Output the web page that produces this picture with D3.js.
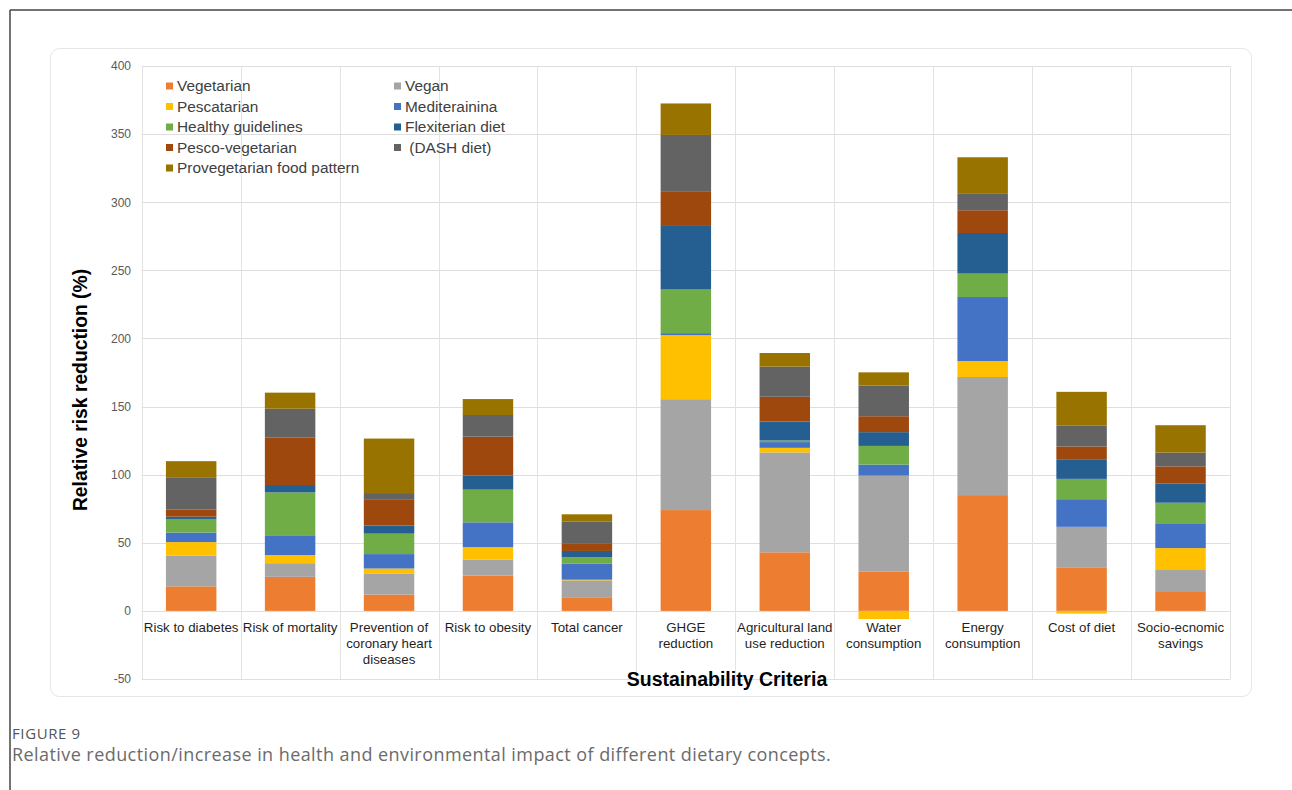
<!DOCTYPE html>
<html>
<head>
<meta charset="utf-8">
<script src="https://cdn.jsdelivr.net/npm/d3@7"></script>
<style>
  html, body { margin: 0; padding: 0; background: #fff; }
  svg { display: block; }
</style>
</head>
<body>
<svg id="chart" width="1292" height="790"></svg>
<script>
// ---------- DATA ----------
const categories = ["Risk to diabetes", "Risk of mortality", "Prevention of coronary heart diseases",
  "Risk to obesity", "Total cancer", "GHGE reduction", "Agricultural land use reduction",
  "Water consumption", "Energy consumption", "Cost of diet", "Socio-ecnomic savings"];
const categoryLabelLines = [
  ["Risk to diabetes"], ["Risk of mortality"], ["Prevention of", "coronary heart", "diseases"],
  ["Risk to obesity"], ["Total cancer"], ["GHGE", "reduction"], ["Agricultural land", "use reduction"],
  ["Water", "consumption"], ["Energy", "consumption"], ["Cost of diet"], ["Socio-ecnomic", "savings"]
];
const seriesNames = ["Vegetarian", "Vegan", "Pescatarian", "Mediterainina", "Healthy guidelines",
  "Flexiterian diet", "Pesco-vegetarian", " (DASH diet)", "Provegetarian food pattern"];
const vegetarian    = [18, 25, 12, 26, 10, 74, 43, 29, 85, 32, 14.5];
const vegan         = [22.5, 10, 15.5, 11.5, 12.4, 81.4, 73.3, 70.3, 86.7, 29.7, 15.5];
const pescatarian   = [10, 6, 3.6, 9.3, 0.5, 47, 3.4, -6, 11.7, -2, 16.1];
const mediterainina = [7, 14, 10.6, 18.2, 11.9, 1.5, 4.2, 8.1, 47, 20.3, 17.7];
const healthy       = [10, 32, 15, 24, 4.5, 32, 1.2, 13.7, 17.2, 14.9, 15.6];
const flexiterian   = [1.7, 5.4, 5.9, 10.4, 4.7, 47.3, 14, 10.1, 29.8, 14, 14];
const pescoVeg      = [5.1, 35, 18.9, 28.5, 5.7, 24.9, 18.1, 11.7, 16.7, 9.8, 12.7];
const dash          = [23.8, 21, 5, 15.9, 16, 41.3, 22.1, 22.6, 12.5, 15.2, 10.1];
const provegetarian = [11.8, 11.8, 40, 11.7, 5.2, 23.1, 10, 9.6, 26.4, 24.9, 20.1];
const yTicks = [-50, 0, 50, 100, 150, 200, 250, 300, 350, 400];
const colors = ["#ED7D31", "#A5A5A5", "#FFC000", "#4472C4", "#70AD47", "#255E91", "#9E480E", "#636363", "#997300"];

const seriesValues = [vegetarian, vegan, pescatarian, mediterainina, healthy, flexiterian, pescoVeg, dash, provegetarian];

// ---------- BUILD TABLE ----------
const table = categories.map((c, i) => {
  const row = { category: c };
  seriesNames.forEach((s, k) => row[s] = seriesValues[k][i]);
  return row;
});

const svg = d3.select("#chart");
const font = "'Liberation Sans', Arial, sans-serif";

// outer frame lines
svg.append("line").attr("x1", 10).attr("y1", 10).attr("x2", 1292).attr("y2", 10)
  .attr("stroke", "#444").attr("stroke-width", 1.5);
svg.append("line").attr("x1", 10).attr("y1", 10).attr("x2", 10).attr("y2", 790)
  .attr("stroke", "#444").attr("stroke-width", 1.5);

// chart container rounded rect
svg.append("rect").attr("x", 50.5).attr("y", 48.5).attr("width", 1201).attr("height", 648)
  .attr("rx", 9).attr("fill", "#fff").attr("stroke", "#e6e6e6").attr("stroke-width", 1);

const plot = { left: 141.7, right: 1230, top: 66, bottom: 679 };

const x = d3.scaleBand().domain(categories).range([plot.left, plot.right])
  .paddingInner(0.49).paddingOuter(0.245);
const y = d3.scaleLinear().domain([-50, 400]).range([plot.bottom, plot.top]);

// horizontal gridlines
svg.append("g").selectAll("line").data(yTicks).join("line")
  .attr("x1", plot.left).attr("x2", plot.right)
  .attr("y1", d => Math.round(y(d)) + 0.5).attr("y2", d => Math.round(y(d)) + 0.5)
  .attr("stroke", "#dedede").attr("stroke-width", 1);

// vertical gridlines at category boundaries
const step = x.step();
const vIdx = d3.range(categories.length + 1);
svg.append("g").selectAll("line").data(vIdx).join("line")
  .attr("x1", i => Math.round(plot.left + i * step) + 0.5)
  .attr("x2", i => Math.round(plot.left + i * step) + 0.5)
  .attr("y1", plot.top).attr("y2", plot.bottom)
  .attr("stroke", "#e3e3e3").attr("stroke-width", 1);

// y axis labels
const yAxis = d3.axisLeft(y).tickValues(yTicks).tickSize(0).tickPadding(0).tickFormat(d => String(d));
const yg = svg.append("g").attr("transform", `translate(131,0)`).call(yAxis);
yg.select(".domain").remove();
yg.selectAll("text").attr("font-family", font).attr("font-size", 12).attr("fill", "#595959");

// stacks
const stack = d3.stack().keys(seriesNames).offset(d3.stackOffsetDiverging);
const stacked = stack(table);

svg.append("g").selectAll("g").data(stacked).join("g")
  .attr("fill", (d, i) => colors[i])
  .selectAll("rect").data(d => d).join("rect")
  .attr("x", d => x(d.data.category))
  .attr("width", x.bandwidth())
  .attr("y", d => y(Math.max(d[0], d[1])))
  .attr("height", d => Math.abs(y(d[0]) - y(d[1])));

// x tick labels
const xg = svg.append("g");
categories.forEach((c, i) => {
  const cx = x(c) + x.bandwidth() / 2;
  const t = xg.append("text").attr("x", cx).attr("y", 631.5)
    .attr("text-anchor", "middle").attr("font-family", font).attr("font-size", 13.3).attr("fill", "#1f1f1f");
  categoryLabelLines[i].forEach((ln, j) => {
    t.append("tspan").attr("x", cx).attr("dy", j === 0 ? 0 : 16).text(ln);
  });
});

// axis titles
svg.append("text").attr("x", 727).attr("y", 686).attr("text-anchor", "middle")
  .attr("font-family", font).attr("font-weight", "bold").attr("font-size", 19.5).attr("fill", "#000")
  .text("Sustainability Criteria");
svg.append("text").attr("transform", "translate(87,390) rotate(-90)").attr("text-anchor", "middle")
  .attr("font-family", font).attr("font-weight", "bold").attr("font-size", 19.3).attr("fill", "#000")
  .text("Relative risk reduction (%)");

// legend
const legend = svg.append("g");
seriesNames.forEach((s, k) => {
  const col = k % 2, row = Math.floor(k / 2);
  const lx = col === 0 ? 166 : 394;
  const ly = 86 + row * 20.5;
  legend.append("rect").attr("x", lx).attr("y", ly - 3.5).attr("width", 7).attr("height", 7).attr("fill", colors[k]);
  legend.append("text").attr("x", lx + 11).attr("y", ly + 5.4)
    .attr("font-family", font).attr("font-size", 15.4).attr("fill", "#404040")
    .attr("xml:space", "preserve").style("white-space", "pre").text(s);
});

// caption
svg.append("text").attr("x", 12).attr("y", 738.5).attr("font-family", "'Open Sans', sans-serif")
  .attr("font-size", 15).attr("letter-spacing", 0.6).attr("fill", "#555").text("FIGURE 9");
svg.append("text").attr("x", 12).attr("y", 760.5).attr("font-family", "'Open Sans', sans-serif")
  .attr("font-size", 18).attr("letter-spacing", 0.43).attr("fill", "#6b6b6b")
  .text("Relative reduction/increase in health and environmental impact of different dietary concepts.");
</script>
</body>
</html>
